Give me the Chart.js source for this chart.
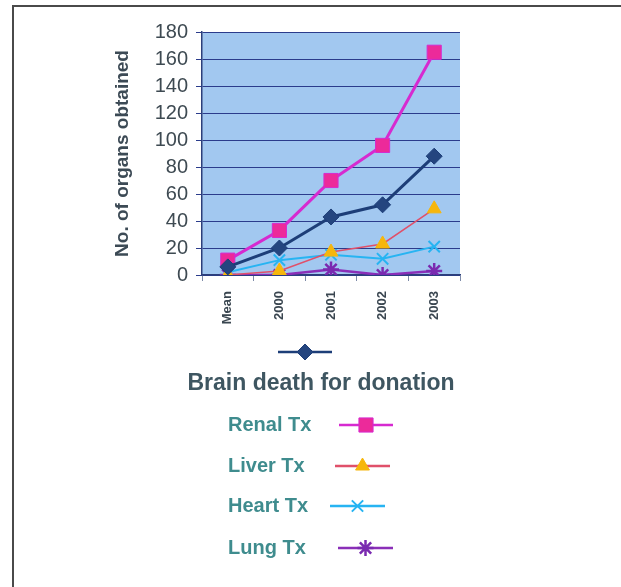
<!DOCTYPE html>
<html>
<head>
<meta charset="utf-8">
<script src="https://cdn.jsdelivr.net/npm/chart.js@4"></script>
<style>
  html, body { margin: 0; padding: 0; background: #fff; }
  #wrap { position: relative; width: 621px; height: 587px; }
  #frame { position: absolute; left: 12px; top: 5px; right: 0; bottom: 0;
           border-top: 2px solid #4a4a4a; border-left: 2px solid #4a4a4a; }
</style>
</head>
<body>
<div id="wrap">
  <div id="frame"></div>
  <canvas id="organChart" width="621" height="587"></canvas>
</div>
<script>
// Data
const categories = ['Mean', '2000', '2001', '2002', '2003'];
const brainDeath = [6, 20, 43, 52, 88];
const renalTx = [11, 33, 70, 96, 165];
const liverTx = [0, 3, 17, 23, 49];
const heartTx = [2, 11, 15, 12, 21];
const lungTx = [0, 0, 4, 0, 3];
const yTicks = [0, 20, 40, 60, 80, 100, 120, 140, 160, 180];

const legendRows = [
    { label: 'Renal Tx', idx: 1, y: 425, x0: 339, x1: 393 },
    { label: 'Liver Tx', idx: 2, y: 466, x0: 335, x1: 390 },
    { label: 'Heart Tx', idx: 3, y: 506, x0: 330, x1: 385 },
    { label: 'Lung Tx', idx: 4, y: 548, x0: 338, x1: 393 }
];

const plotBg = {
    id: 'plotBg',
    beforeDraw(chart) {
        const { ctx, chartArea: a } = chart;
        ctx.save();
        ctx.fillStyle = '#a2c8f0';
        ctx.fillRect(a.left, a.top, a.right - a.left, a.bottom - a.top);
        ctx.restore();
    }
};

function drawMarker(ctx, ds, x, y) {
    const el = { pointStyle: ds.pointStyle, radius: ds.pointRadius, rotation: 0,
                 borderWidth: ds.pointBorderWidth };
    ctx.fillStyle = ds.pointBackgroundColor;
    ctx.strokeStyle = ds.pointBorderColor;
    ctx.lineWidth = ds.pointBorderWidth;
    Chart.helpers.drawPoint(ctx, el, x, y);
}

function drawSample(ctx, ds, x0, x1, y) {
    ctx.save();
    ctx.strokeStyle = ds.borderColor;
    ctx.lineWidth = 2.5;
    ctx.beginPath();
    ctx.moveTo(x0, y);
    ctx.lineTo(x1, y);
    ctx.stroke();
    drawMarker(ctx, ds, (x0 + x1) / 2, y);
    ctx.restore();
}

const bottomLegend = {
    id: 'bottomLegend',
    afterDraw(chart) {
        const ctx = chart.ctx;
        const sets = chart.data.datasets;
        drawSample(ctx, sets[0], 278, 332, 352);
        ctx.save();
        ctx.fillStyle = '#3e5661';
        ctx.font = 'bold 23px "Liberation Sans", Arial, sans-serif';
        ctx.textAlign = 'center';
        ctx.textBaseline = 'middle';
        ctx.fillText(sets[0].label, 321, 384);
        ctx.font = 'bold 20px "Liberation Sans", Arial, sans-serif';
        ctx.textAlign = 'left';
        ctx.fillStyle = '#3f8c8e';
        legendRows.forEach(r => {
            ctx.fillText(r.label, 228, r.y);
            drawSample(ctx, sets[r.idx], r.x0, r.x1, r.y);
        });
        ctx.restore();
    }
};

new Chart(document.getElementById('organChart'), {
    type: 'line',
    data: {
        labels: categories,
        datasets: [
            { label: 'Brain death for donation', data: brainDeath, borderColor: '#1d3e78',
              pointStyle: 'rectRot', pointRadius: 8, pointBackgroundColor: '#24457f',
              pointBorderColor: '#1d3e78', pointBorderWidth: 1, borderWidth: 3 },
            { label: 'Renal Tx', data: renalTx, borderColor: '#d62ad0',
              pointStyle: 'rect', pointRadius: 10, pointBackgroundColor: '#ec2a9a',
              pointBorderColor: '#d62ad0', pointBorderWidth: 1, borderWidth: 3 },
            { label: 'Liver Tx', data: liverTx, borderColor: '#e0506a',
              pointStyle: 'triangle', pointRadius: 8, pointBackgroundColor: '#f6b60c',
              pointBorderColor: '#f6b60c', pointBorderWidth: 1, borderWidth: 1.5 },
            { label: 'Heart Tx', data: heartTx, borderColor: '#27b4f2',
              pointStyle: 'crossRot', pointRadius: 8, pointBackgroundColor: '#27b4f2',
              pointBorderColor: '#27b4f2', pointBorderWidth: 2, borderWidth: 2 },
            { label: 'Lung Tx', data: lungTx, borderColor: '#8a2fb8',
              pointStyle: 'star', pointRadius: 8, pointBackgroundColor: '#7a2ab0',
              pointBorderColor: '#7a2ab0', pointBorderWidth: 2.5, borderWidth: 2.5 }
        ]
    },
    options: {
        responsive: false,
        animation: false,
        layout: { padding: { left: 105, right: 161, top: 32, bottom: 254 } },
        plugins: {
            legend: { display: false },
            tooltip: { enabled: false }
        },
        scales: {
            x: {
                offset: true,
                afterFit: s => { s.height = 58; },
                border: { color: '#2c3f7a', width: 1.5 },
                grid: { offset: true, drawOnChartArea: false, tickLength: 6, color: '#7d8aa8' },
                ticks: {
                    minRotation: 90, maxRotation: 90, padding: 10,
                    color: '#3a4650',
                    font: { family: '"Liberation Sans", Arial, sans-serif', size: 13, weight: 'bold' }
                }
            },
            y: {
                min: 0, max: 180,
                afterFit: s => { s.width = 97; },
                afterBuildTicks: s => { s.ticks = yTicks.map(v => ({ value: v })); },
                border: { color: '#2c3f7a', width: 1.5 },
                grid: { color: '#2b3c8c', lineWidth: 1, tickLength: 6 },
                ticks: {
                    padding: 8, color: '#3e4a52',
                    font: { family: '"Liberation Sans", Arial, sans-serif', size: 20 }
                },
                title: {
                    display: true, text: 'No. of organs obtained', color: '#3c4a55',
                    padding: { top: 6, bottom: 0 },
                    font: { family: '"Liberation Sans", Arial, sans-serif', size: 19, weight: 'bold' }
                }
            }
        }
    },
    plugins: [plotBg, bottomLegend]
});
</script>
</body>
</html>
